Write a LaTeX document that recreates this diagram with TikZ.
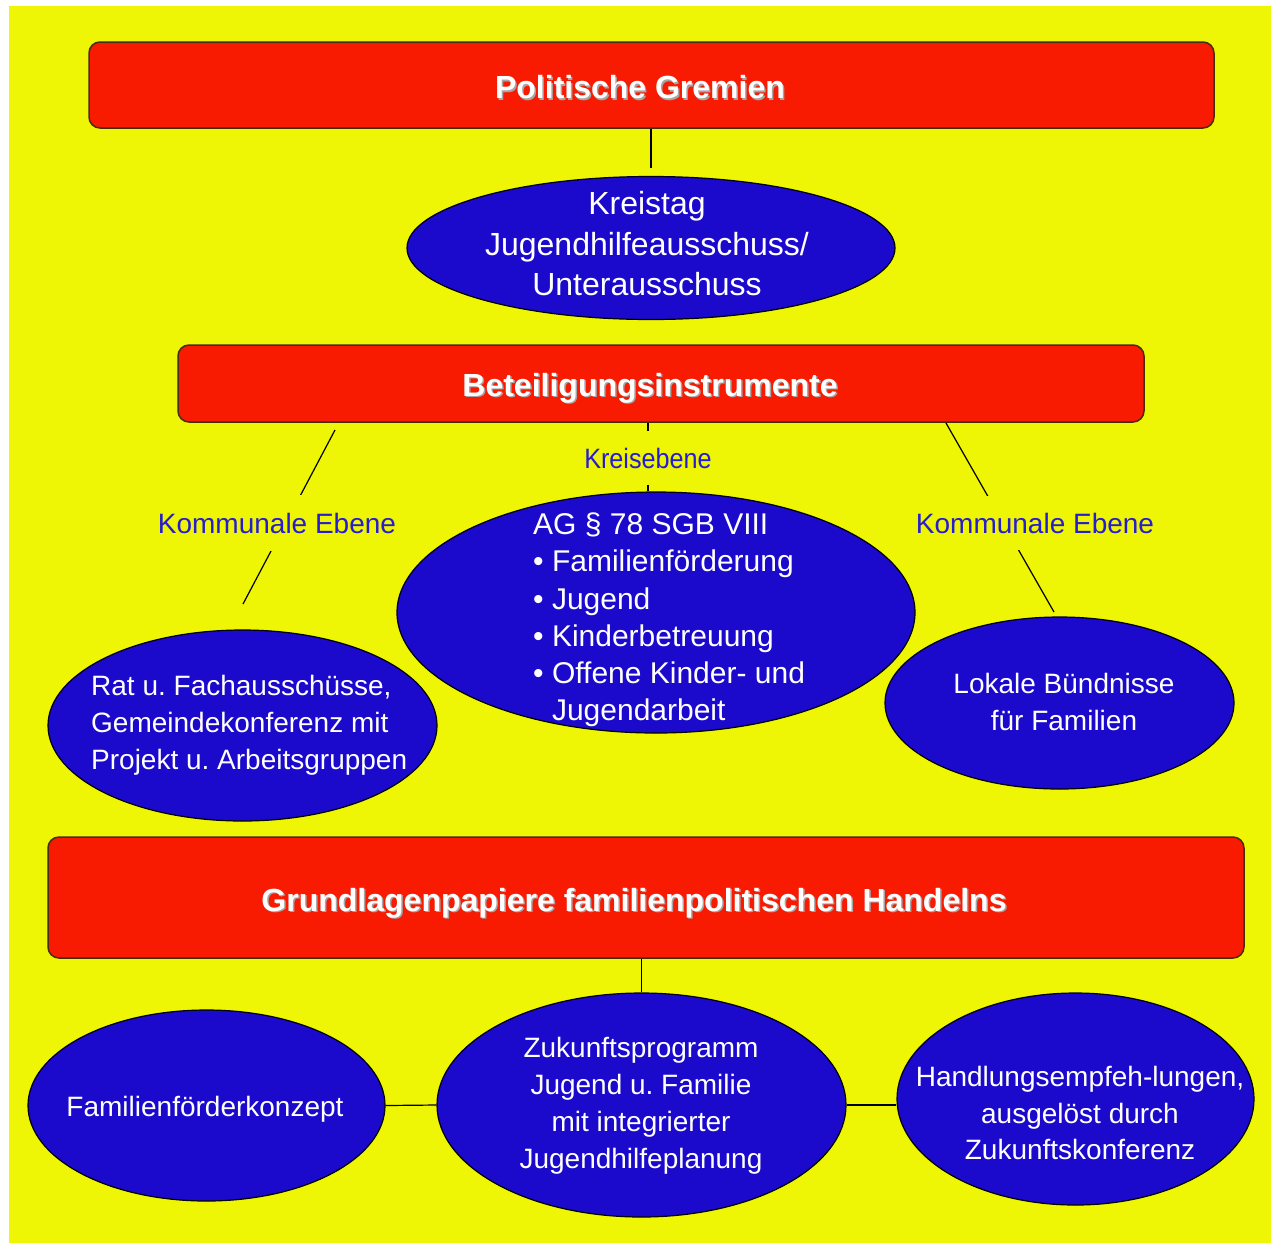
\documentclass[tikz,border=0pt]{standalone}
\usepackage{fontspec}
\setmainfont{Liberation Sans}
\usetikzlibrary{shapes.geometric}
\definecolor{bgyellow}{RGB}{238,245,5}
\definecolor{boxred}{RGB}{249,26,2}
\definecolor{ellblue}{RGB}{27,10,204}
\definecolor{lblblue}{RGB}{38,28,208}
\definecolor{rimdark}{RGB}{70,45,10}
\frenchspacing
\newcommand\shtext[1]{\makebox[0pt][l]{\hspace{1.5pt}\raisebox{-1.5pt}{\color{black!35}#1}}#1}
\tikzset{
  titlebox/.style={draw=rimdark, line width=1.5pt, fill=boxred, rounded corners=11pt, inner sep=0pt},
  titletext/.style={text=white, inner sep=0pt, font=\fontsize{32}{38}\selectfont\bfseries},
  blob/.style={ellipse, draw=black, line width=1.2pt, fill=ellblue, inner sep=0pt},
  blobtext/.style={text=white, align=center, inner sep=0pt},
  leveltext/.style={text=lblblue, fill=bgyellow, inner xsep=2pt, font=\fontsize{28}{34}\selectfont},
  link/.style={draw=black, line width=1.2pt},
}
\begin{document}
\begin{tikzpicture}[x=1pt,y=-1pt]
  \useasboundingbox (0,0) rectangle (1271,1243);
  \fill[white] (0,0) rectangle (1271,1243);
  \fill[bgyellow] (9,6) rectangle (1271,1243);

  % oberste Ebene
  \node[titlebox, minimum width=1125, minimum height=86] (gremien) at (651.5,85) {};
  \node[titletext] (gremientxt) at (640,88) {\shtext{Politische Gremien}};
  \node[blob, minimum width=488, minimum height=143] (kreistag) at (651,248) {};
  \node[blobtext, font=\fontsize{32}{40.5}\selectfont] (kreistagtxt) at (647,244)
    {Kreistag\\Jugendhilfeausschuss/\\Unterausschuss};
  \draw[link, shorten >=8pt] (gremien.south -| kreistag.north) -- (kreistag.north);

  % Beteiligung
  \node[titlebox, minimum width=966, minimum height=77] (beteil) at (661,383.5) {};
  \node[titletext] (beteiltxt) at (650,389) {\shtext{Beteiligungsinstrumente}};

  \node[blob, minimum width=518, minimum height=241] (ag) at (656,612.5) {};
  \node[blobtext, align=left, anchor=west, font=\fontsize{30}{37.2}\selectfont] (agtxt) at (533,620)
    {AG \S\ 78 SGB VIII\\
     \textbullet\ Familienförderung\\
     \textbullet\ Jugend\\
     \textbullet\ Kinderbetreuung\\
     \textbullet\ Offene Kinder- und\\
     \hphantom{\textbullet\ }Jugendarbeit};

  \node[blob, minimum width=389, minimum height=191] (rat) at (242.5,725.5) {};
  \node[blobtext, align=left, anchor=west, font=\fontsize{28}{37}\selectfont] (rattxt) at (91,725)
    {Rat u. Fachausschüsse,\\Gemeindekonferenz mit\\Projekt u. Arbeitsgruppen};

  \node[blob, minimum width=349, minimum height=172] (buendnis) at (1059.5,703) {};
  \node[blobtext, font=\fontsize{28}{37}\selectfont] (buendnistxt) at (1064,702)
    {Lokale Bündnisse\\für Familien};

  % Ebenen
  \node[leveltext, minimum height=53] (kreisebene) at (648,458)
    {\scalebox{0.9}[1]{Kreisebene}};
  \draw[link] (beteil.south -| kreisebene) -- (kreisebene.north);
  \draw[link] (kreisebene.south) -- (kreisebene |- ag.north);

  \coordinate (kl1) at (335,430);
  \coordinate (kl2) at (243,604);
  \draw[link] (kl1) -- (kl2);
  \node[leveltext, minimum height=56] (komlinks) at (277,523) {Kommunale Ebene};

  \coordinate (kr1) at (946,423);
  \coordinate (kr2) at (1054,612);
  \draw[link] (kr1) -- (kr2);
  \node[leveltext, minimum height=54] (komrechts) at (1035,523) {Kommunale Ebene};

  % Grundlagen
  \node[titlebox, minimum width=1196, minimum height=121] (grund) at (646,897.5) {};
  \node[titletext] (grundtxt) at (634,904) {\shtext{Grundlagenpapiere familienpolitischen Handelns}};

  \node[blob, minimum width=357, minimum height=191] (famfoerd) at (206.5,1105.5) {};
  \node[blobtext, font=\fontsize{28}{37}\selectfont] (famfoerdtxt) at (205,1109)
    {Familienförderkonzept};

  \node[blob, minimum width=409, minimum height=224] (zukunft) at (641.5,1105) {};
  \node[blobtext, font=\fontsize{28}{37}\selectfont] (zukunfttxt) at (641,1106)
    {Zukunftsprogramm\\Jugend u. Familie\\mit integrierter\\Jugendhilfeplanung};

  \node[blob, minimum width=357, minimum height=212] (handlung) at (1075.5,1099) {};
  \node[blobtext, font=\fontsize{28}{36.5}\selectfont] (handlungtxt) at (1080,1113)
    {Handlungsempfeh-lungen,\\ausgelöst durch\\Zukunftskonferenz};

  \draw[link] (grund.south -| zukunft.north) -- (zukunft.north);
  \draw[link] (famfoerd.east) -- (zukunft.west);
  \draw[link] (zukunft.east) -- (zukunft.east -| handlung.west);
\end{tikzpicture}
\end{document}
